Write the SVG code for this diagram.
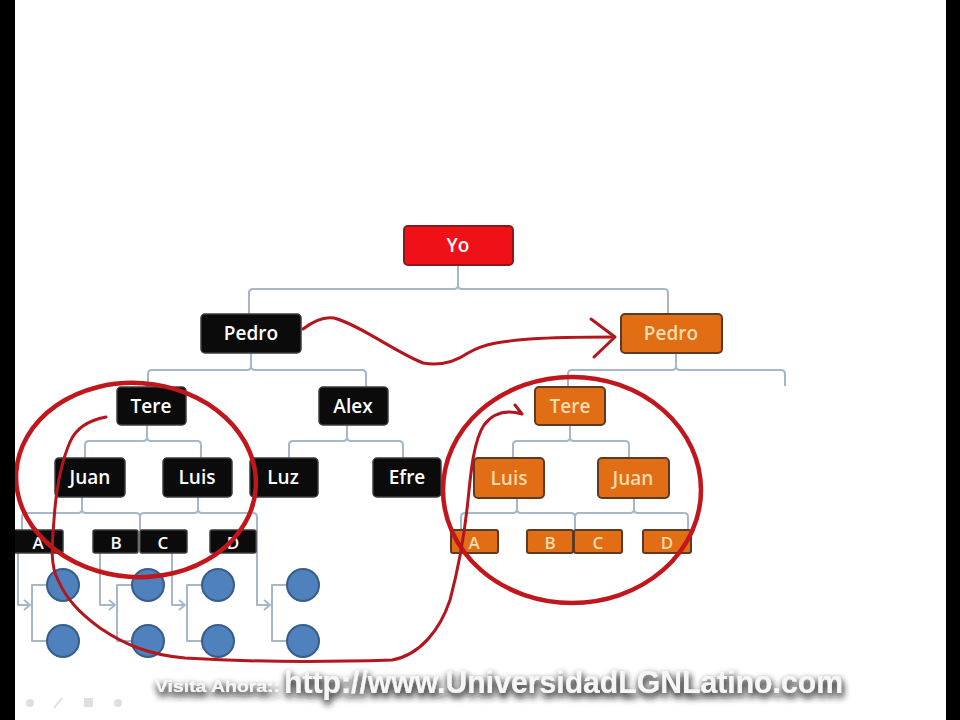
<svg xmlns="http://www.w3.org/2000/svg" width="960" height="720" viewBox="0 0 960 720">
<defs>
<style>
.conn{fill:none;stroke:#a7b7cb;stroke-width:2;stroke-linejoin:round}
.blk rect{fill:#0b0b0b;stroke:#3c3c3c;stroke-width:1.5}
.org rect{fill:#e16d14;stroke:#5e3a24;stroke-width:2}
.red rect{fill:#f01018;stroke:#8a1a1a;stroke-width:2}
.lbl{font-family:"Open Sans",Lato,"Liberation Sans",sans-serif;font-weight:600;font-size:19px;fill:#ffffff;text-anchor:middle;dominant-baseline:central}
.org .lbl{fill:#fbdcae}
.sm{font-size:17px}
.circ{fill:#4f81bd;stroke:#385d8a;stroke-width:2}
.ink{fill:none;stroke:#b3161c;stroke-width:3;stroke-linecap:round;stroke-linejoin:round}
.ring{fill:none;stroke:#c2161d;stroke-width:4.5}
.wm{font-family:"Liberation Sans",Arial,sans-serif;font-weight:bold;fill:#f6f6f6}
</style>
<filter id="halo" x="-10%" y="-60%" width="120%" height="230%">
<feGaussianBlur in="SourceAlpha" stdDeviation="3.5" result="b"/>
<feFlood flood-color="#303030" flood-opacity="0.85"/>
<feComposite in2="b" operator="in" result="s"/>
<feOffset dx="1" dy="4" result="o"/>
<feMerge><feMergeNode in="o"/><feMergeNode in="o"/><feMergeNode in="SourceGraphic"/></feMerge>
</filter>
</defs>
<rect x="0" y="0" width="960" height="720" fill="#ffffff"/>

<g id="connectors">
<path class="conn" d="M458,265 V285 Q458,289 454,289 H253 Q249,289 249,293 V314"/>
<path class="conn" d="M458,285 Q458,289 462,289 H664 Q668,289 668,293 V314"/>
<path class="conn" d="M251,353 V366 Q251,370 247,370 H152 Q148,370 148,374 V387"/>
<path class="conn" d="M251,366 Q251,370 255,370 H362 Q366,370 366,374 V387"/>
<path class="conn" d="M676,353 V366 Q676,370 672,370 H572 Q568,370 568,374 V386"/>
<path class="conn" d="M676,366 Q676,370 680,370 H781 Q785,370 785,374 V386"/>
<path class="conn" d="M147,425 V437 Q147,441 143,441 H89 Q85,441 85,445 V458"/>
<path class="conn" d="M147,437 Q147,441 151,441 H197 Q201,441 201,445 V458"/>
<path class="conn" d="M347,425 V437 Q347,441 343,441 H293 Q289,441 289,445 V458"/>
<path class="conn" d="M347,437 Q347,441 351,441 H399 Q403,441 403,445 V458"/>
<path class="conn" d="M570,426 V437 Q570,441 566,441 H517 Q513,441 513,445 V457"/>
<path class="conn" d="M570,437 Q570,441 574,441 H625 Q629,441 629,445 V457"/>
<path class="conn" d="M82,497 V509 Q82,513 78,513 H26 Q22,513 22,517 V530"/>
<path class="conn" d="M82,509 Q82,513 86,513 H136 Q140,513 140,517 V530"/>
<path class="conn" d="M198,497 V509 Q198,513 194,513 H144 Q140,513 140,517"/>
<path class="conn" d="M198,509 Q198,513 202,513 H253 Q257,513 257,517 V605 H270"/>
<path class="conn" d="M517,498 V509 Q517,513 513,513 H465 Q461,513 461,517 V529"/>
<path class="conn" d="M517,509 Q517,513 521,513 H571 Q575,513 575,517 V529"/>
<path class="conn" d="M634,498 V509 Q634,513 630,513 H579 Q575,513 575,517"/>
<path class="conn" d="M634,509 Q634,513 638,513 H684 Q688,513 688,517 V529"/>
<path class="conn" d="M18,553 V605 H30 M24,600 L30,605 L24,610"/>
<path class="conn" d="M47,585 H32 V641 H47"/>
<path class="conn" d="M100,553 V605 H115 M109,600 L115,605 L109,610"/>
<path class="conn" d="M132,585 H117 V641 H132"/>
<path class="conn" d="M172,553 V605 H185 M179,600 L185,605 L179,610"/>
<path class="conn" d="M202,585 H187 V641 H202"/>
<path class="conn" d="M264,600 L270,605 L264,610"/>
<path class="conn" d="M287,585 H272 V641 H287"/>
</g>

<g id="yo" class="red"><rect x="404" y="226" width="109" height="39" rx="4"/><text class="lbl" x="458" y="245">Yo</text></g>
<g id="pedro" class="blk"><rect x="201" y="314" width="100" height="39" rx="4"/><text class="lbl" x="251" y="333">Pedro</text></g>
<g id="tere" class="blk"><rect x="117" y="387" width="69" height="38" rx="4"/><text class="lbl" x="151" y="406">Tere</text></g>
<g id="alex" class="blk"><rect x="319" y="387" width="69" height="38" rx="4"/><text class="lbl" x="353" y="406">Alex</text></g>
<g id="juan" class="blk"><rect x="55" y="458" width="70" height="39" rx="4"/><text class="lbl" x="90" y="477">Juan</text></g>
<g id="luis" class="blk"><rect x="163" y="458" width="69" height="39" rx="4"/><text class="lbl" x="197" y="477">Luis</text></g>
<g id="luz" class="blk"><rect x="250" y="458" width="68" height="39" rx="4"/><text class="lbl" x="283" y="477">Luz</text></g>
<g id="efre" class="blk"><rect x="373" y="458" width="68" height="39" rx="4"/><text class="lbl" x="407" y="477">Efre</text></g>
<g id="a" class="blk"><rect x="6" y="530" width="57" height="23" rx="2"/><text class="lbl sm" x="38" y="542">A</text></g>
<g id="b" class="blk"><rect x="93" y="530" width="45" height="23" rx="2"/><text class="lbl sm" x="116" y="542">B</text></g>
<g id="c" class="blk"><rect x="140" y="530" width="47" height="23" rx="2"/><text class="lbl sm" x="163" y="542">C</text></g>
<g id="d" class="blk"><rect x="210" y="530" width="46" height="23" rx="2"/><text class="lbl sm" x="233" y="542">D</text></g>

<g id="pedro2" class="org"><rect x="621" y="314" width="101" height="39" rx="4"/><text class="lbl" x="671" y="333">Pedro</text></g>
<g id="tere2" class="org"><rect x="535" y="387" width="70" height="38" rx="4"/><text class="lbl" x="570" y="406">Tere</text></g>
<g id="luis2" class="org"><rect x="474" y="458" width="70" height="40" rx="4"/><text class="lbl" x="509" y="478">Luis</text></g>
<g id="juan2" class="org"><rect x="598" y="458" width="71" height="40" rx="4"/><text class="lbl" x="633" y="478">Juan</text></g>
<g id="a2" class="org"><rect x="451" y="530" width="47" height="23" rx="2"/><text class="lbl sm" x="474" y="542">A</text></g>
<g id="b2" class="org"><rect x="527" y="530" width="46" height="23" rx="2"/><text class="lbl sm" x="550" y="542">B</text></g>
<g id="c2" class="org"><rect x="574" y="530" width="48" height="23" rx="2"/><text class="lbl sm" x="598" y="542">C</text></g>
<g id="d2" class="org"><rect x="643" y="530" width="48" height="23" rx="2"/><text class="lbl sm" x="667" y="542">D</text></g>

<g id="circles">
<circle class="circ" cx="63" cy="585" r="16"/><circle class="circ" cx="63" cy="641" r="16"/>
<circle class="circ" cx="148" cy="585" r="16"/><circle class="circ" cx="148" cy="641" r="16"/>
<circle class="circ" cx="218" cy="585" r="16"/><circle class="circ" cx="218" cy="641" r="16"/>
<circle class="circ" cx="303" cy="585" r="16"/><circle class="circ" cx="303" cy="641" r="16"/>
</g>

<g id="annotations">
<ellipse class="ring" cx="136" cy="480" rx="120" ry="97" transform="rotate(4 136 480)"/>
<ellipse class="ring" cx="572" cy="490" rx="129" ry="113"/>
<path class="ink" d="M303,329 C312,322 322,316 334,318 C360,325 395,352 423,363 C440,366 455,362 468,353 C485,343 505,341 530,339 C560,337 590,337 614,337"/>
<path class="ink" d="M591,319 L615,337 L594,357"/>
<path class="ink" d="M106,417 C90,420 76,428 70,442 C60,465 56,490 54,520 C52,545 50,565 58,580 C66,598 78,612 100,628 C125,645 150,655 185,658 C250,662 330,662 392,660 C420,655 440,630 450,600 C458,570 464,540 468,500 C471,470 474,440 484,425 C494,412 508,410 522,414 M515,405 L522,414"/>
</g>

<rect x="0" y="0" width="15" height="720" fill="#000"/>
<rect x="946" y="0" width="14" height="720" fill="#000"/>

<g id="watermark" filter="url(#halo)">
<text class="wm" x="155" y="692" font-size="17" textLength="125" lengthAdjust="spacingAndGlyphs">Visita Ahora::</text>
<text class="wm" x="284" y="693" font-size="31" textLength="559" lengthAdjust="spacingAndGlyphs">http://www.UniversidadLGNLatino.com</text>
</g>
<g id="toolbar" fill="#d8d8d8" opacity="0.8">
<circle cx="30" cy="703" r="4"/>
<path d="M54,708 L62,698" stroke="#d8d8d8" stroke-width="2"/>
<rect x="84" y="698" width="9" height="9"/>
<circle cx="118" cy="703" r="4"/>
</g>
</svg>
